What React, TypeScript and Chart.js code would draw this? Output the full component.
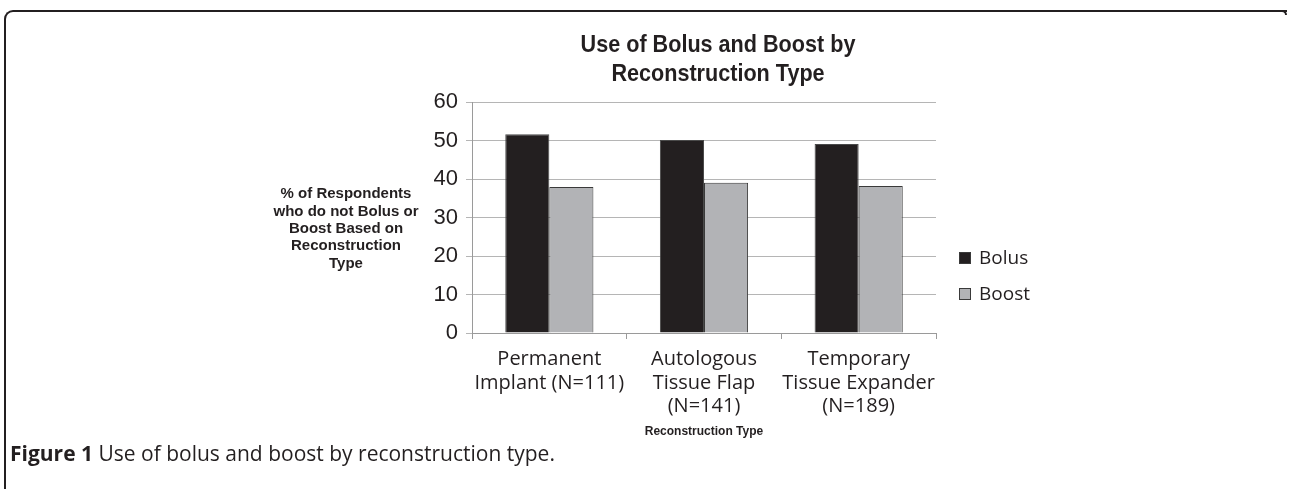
import React, { useEffect, useRef } from "react";
import { Chart, registerables } from "chart.js";

Chart.register(...registerables);

const CATEGORIES: string[][] = [
  ["Permanent", "Implant (N=111)"],
  ["Autologous", "Tissue Flap", "(N=141)"],
  ["Temporary", "Tissue Expander", "(N=189)"],
];
const SERIES_NAMES = ["Bolus", "Boost"];
const BOLUS = [51.6, 50.1, 49.1];
const BOOST = [37.9, 39.0, 38.2];
const Y_MIN = 0;
const Y_MAX = 60;
const Y_STEP = 10;
const TITLE_LINES = ["Use of Bolus and Boost by", "Reconstruction Type"];
const Y_TITLE_LINES = [
  "% of Respondents",
  "who do not Bolus or",
  "Boost Based on",
  "Reconstruction",
  "Type",
];
const X_TITLE = "Reconstruction Type";
const CAPTION_LABEL = "Figure 1";
const CAPTION_TEXT = " Use of bolus and boost by reconstruction type.";

const INK = "#231f20";
const BOLUS_FILL = "#231f20";
const BOOST_FILL = "#b2b3b6";

const overlayPlugin = {
  id: "overlay",
  afterDraw(chart: any) {
    const { ctx, chartArea } = chart;
    ctx.save();
    ctx.fillStyle = INK;
    ctx.textAlign = "center";
    ctx.textBaseline = "middle";
    // Title (slightly condensed bold sans)
    ctx.save();
    ctx.font = 'bold 24px "Liberation Sans", Arial, sans-serif';
    ctx.translate(718, 0);
    ctx.scale(0.9, 1);
    TITLE_LINES.forEach((t, i) => ctx.fillText(t, 0, 45 + i * 29));
    ctx.restore();
    // Horizontal y-axis title
    ctx.font = 'bold 15px "Liberation Sans", Arial, sans-serif';
    Y_TITLE_LINES.forEach((t, i) => ctx.fillText(t, 346, 194 + i * 17.4));
    // Legend
    ctx.textAlign = "left";
    ctx.font = '19px "Open Sans", sans-serif';
    chart.data.datasets.forEach((ds: any, i: number) => {
      const x = chartArea.right + 23;
      const cy = 258 + i * 36;
      ctx.fillStyle = ds.backgroundColor;
      ctx.fillRect(x, cy - 6, 12, 12);
      ctx.strokeStyle = "#3a3a3a";
      ctx.lineWidth = 1;
      ctx.strokeRect(x + 0.5, cy - 5.5, 11, 11);
      ctx.fillStyle = INK;
      ctx.fillText(ds.label, x + 20, cy + 1);
    });
    ctx.restore();
  },
};

export default function App() {
  const ref = useRef<HTMLCanvasElement | null>(null);

  useEffect(() => {
    if (!ref.current) return;
    const chart = new Chart(ref.current, {
      type: "bar",
      data: {
        labels: CATEGORIES,
        datasets: [
          {
            label: SERIES_NAMES[0],
            data: BOLUS,
            backgroundColor: BOLUS_FILL,
            borderColor: "#4a4a4a",
            borderWidth: 1,
            categoryPercentage: 0.57,
            barPercentage: 1,
          },
          {
            label: SERIES_NAMES[1],
            data: BOOST,
            backgroundColor: BOOST_FILL,
            borderColor: "#3a3a3a",
            borderWidth: 1,
            categoryPercentage: 0.57,
            barPercentage: 1,
          },
        ],
      },
      options: {
        animation: false,
        responsive: false,
        maintainAspectRatio: false,
        layout: { padding: { left: 412, right: 354, top: 102, bottom: 0 } },
        plugins: {
          legend: { display: false },
          title: { display: false },
          tooltip: { enabled: false },
        },
        scales: {
          x: {
            grid: {
              display: true,
              drawOnChartArea: false,
              drawTicks: true,
              tickLength: 6,
              color: "#9a9a9a",
              offset: true,
            },
            border: { color: "#9a9a9a" },
            ticks: {
              font: { family: '"Open Sans", sans-serif', size: 20, lineHeight: 1.17 },
              color: INK,
              padding: 9,
              maxRotation: 0,
              minRotation: 0,
              autoSkip: false,
            },
            title: {
              display: true,
              text: X_TITLE,
              font: { family: '"Liberation Sans", Arial, sans-serif', size: 12, weight: "bold" },
              color: INK,
              padding: { top: 0, bottom: 6 },
            },
            afterFit: (s: any) => {
              s.height = 112;
            },
          },
          y: {
            min: Y_MIN,
            max: Y_MAX,
            ticks: {
              stepSize: Y_STEP,
              font: { family: '"Liberation Sans", Arial, sans-serif', size: 22 },
              color: INK,
              padding: 8,
            },
            grid: { color: "#b5b5b5", tickLength: 6 },
            border: { color: "#9a9a9a" },
            afterFit: (s: any) => {
              s.width = 60;
            },
          },
        },
      },
      plugins: [overlayPlugin],
    });
    return () => chart.destroy();
  }, []);

  return (
    <div
      style={{
        position: "fixed",
        left: 0,
        top: 0,
        width: 1290,
        height: 489,
        background: "#fff",
        overflow: "hidden",
      }}
    >
      <div
        style={{
          position: "absolute",
          left: 4,
          top: 10,
          width: 1283,
          height: 490,
          borderTop: `2px solid ${INK}`,
          borderLeft: `2px solid ${INK}`,
          borderTopLeftRadius: 9,
          boxSizing: "border-box",
        }}
      />
      <div
        style={{
          position: "absolute",
          left: 1280,
          top: 10,
          width: 7,
          height: 5,
          borderTop: `2px solid ${INK}`,
          borderRight: `2px solid ${INK}`,
          borderTopRightRadius: 5,
          boxSizing: "border-box",
        }}
      />
      <canvas
        ref={ref}
        width={1290}
        height={445}
        style={{ position: "absolute", left: 0, top: 0, width: 1290, height: 445 }}
      />
      <div
        style={{
          position: "absolute",
          left: 10,
          top: 441,
          fontFamily: '"Open Sans", sans-serif',
          fontSize: 21,
          color: INK,
          whiteSpace: "nowrap",
          lineHeight: "24px",
        }}
      >
        <b>{CAPTION_LABEL}</b>
        {CAPTION_TEXT}
      </div>
    </div>
  );
}
